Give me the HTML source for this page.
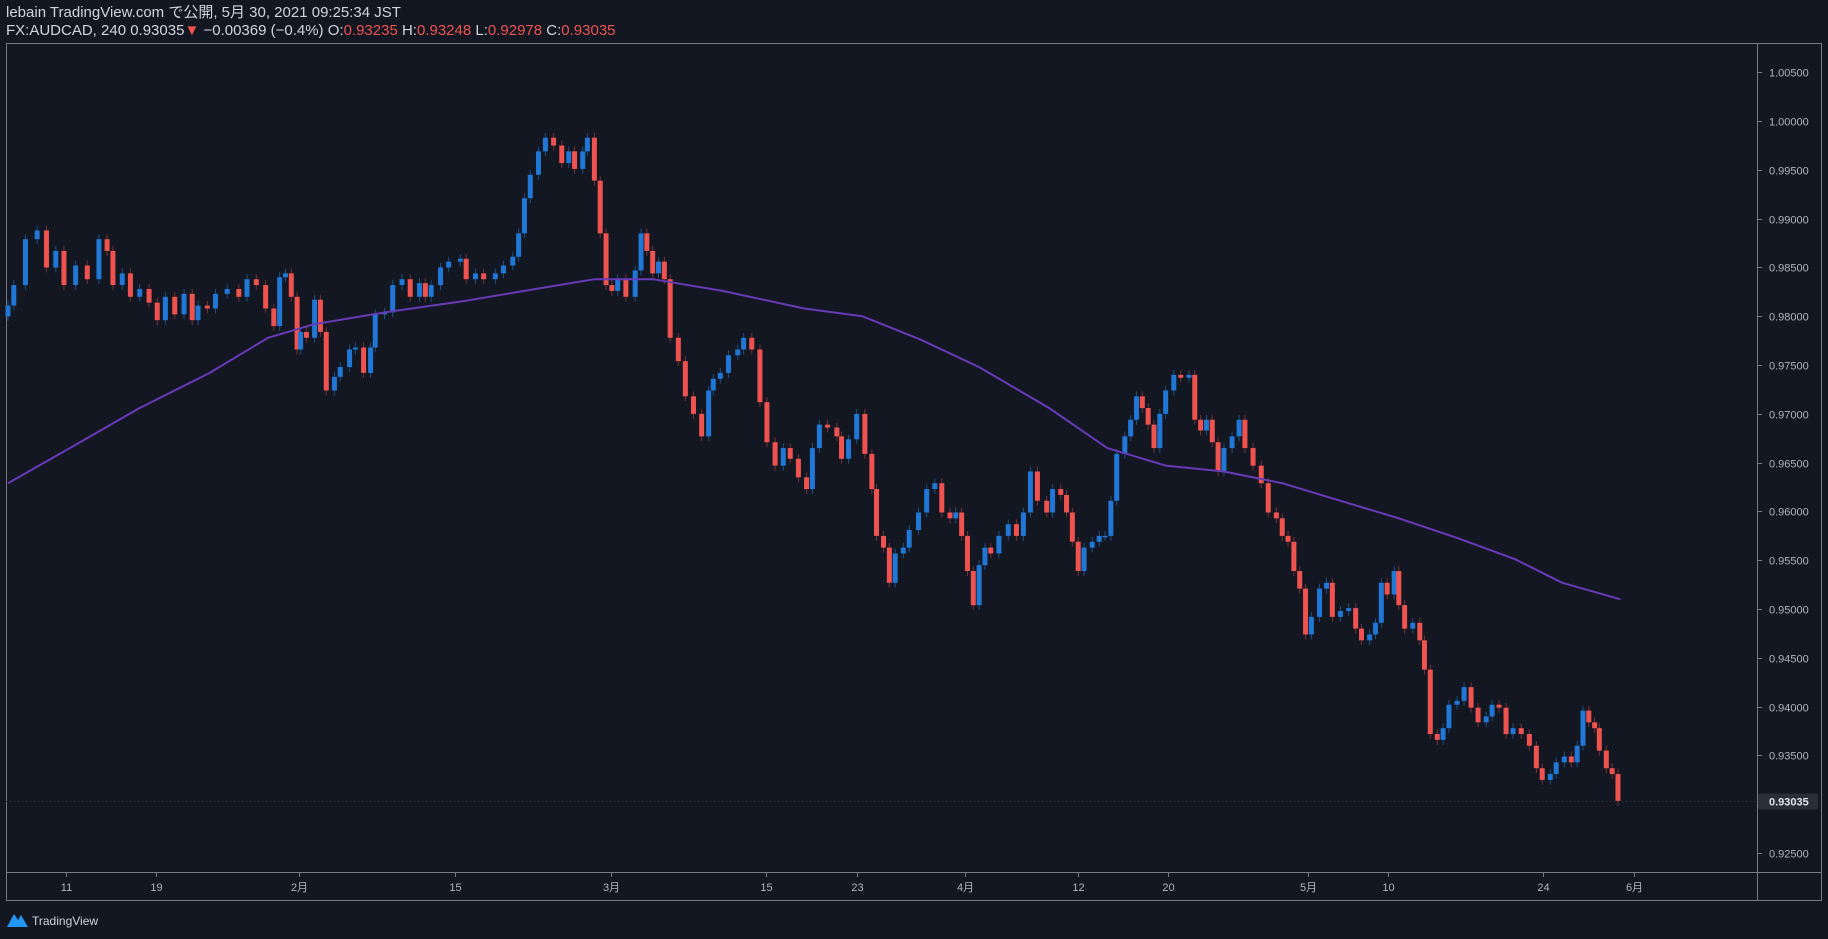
<!DOCTYPE html>
<html><head><meta charset="utf-8">
<style>
html,body{margin:0;padding:0;background:#131722;width:1828px;height:939px;overflow:hidden;font-family:"Liberation Sans","Noto Sans CJK JP",sans-serif;}
#hdr{position:absolute;left:6px;top:4px;color:#d1d4dc;font-size:15px;line-height:18px;}
.red{color:#ef5350}
svg{position:absolute;left:0;top:0}
</style></head><body>
<div id="hdr">
<div>lebain TradingView.com で公開, 5月 30, 2021 09:25:34 JST</div>
<div>FX:AUDCAD, 240 0.93035<span class="red">▼</span> −0.00369 (−0.4%) O:<span class="red">0.93235</span> H:<span class="red">0.93248</span> L:<span class="red">0.92978</span> C:<span class="red">0.93035</span></div>
</div>
<svg id="chart" width="1828" height="939"></svg>
<script>
const closes=[0.9811,0.9832,0.9879,0.9888,0.9850,0.9867,0.9832,0.9852,0.9838,0.9879,0.9867,0.9832,0.9844,0.9820,0.9828,0.9814,0.9796,0.9820,0.9802,0.9823,0.9796,0.9811,0.9808,0.9823,0.9828,0.9820,0.9838,0.9832,0.9808,0.9790,0.9840,0.9844,0.9820,0.9766,0.9784,0.9778,0.9817,0.9784,0.9724,0.9738,0.9748,0.9766,0.9768,0.9742,0.9768,0.9802,0.9804,0.9832,0.9838,0.9820,0.9834,0.9820,0.9832,0.9850,0.9856,0.9859,0.9838,0.9844,0.9838,0.9844,0.9852,0.9861,0.9885,0.9921,0.9945,0.9969,0.9983,0.9975,0.9957,0.9969,0.9951,0.9969,0.9983,0.9939,0.9885,0.9832,0.9826,0.9838,0.9820,0.9847,0.9885,0.9867,0.9844,0.9856,0.9838,0.9778,0.9754,0.9718,0.9700,0.9677,0.9724,0.9736,0.9742,0.9760,0.9766,0.9778,0.9766,0.9712,0.9671,0.9647,0.9665,0.9654,0.9635,0.9623,0.9665,0.9689,0.9686,0.9677,0.9654,0.9674,0.9700,0.9659,0.9623,0.9575,0.9563,0.9527,0.9557,0.9563,0.9581,0.9599,0.9623,0.9629,0.9599,0.9593,0.9599,0.9575,0.9539,0.9504,0.9545,0.9563,0.9557,0.9575,0.9587,0.9575,0.9599,0.9641,0.9611,0.9599,0.9623,0.9617,0.9599,0.9569,0.9539,0.9563,0.9569,0.9575,0.9575,0.9611,0.9659,0.9677,0.9694,0.9718,0.9706,0.9689,0.9665,0.9700,0.9724,0.9740,0.9737,0.9740,0.9694,0.9683,0.9694,0.9671,0.9641,0.9665,0.9677,0.9694,0.9665,0.9647,0.9629,0.9599,0.9593,0.9575,0.9569,0.9539,0.9521,0.9474,0.9492,0.9521,0.9527,0.9492,0.9498,0.9501,0.9480,0.9468,0.9474,0.9486,0.9527,0.9515,0.9539,0.9504,0.9480,0.9486,0.9468,0.9438,0.9372,0.9366,0.9378,0.9402,0.9406,0.9420,0.9399,0.9384,0.9390,0.9402,0.9399,0.9372,0.9378,0.9372,0.9360,0.9337,0.9325,0.9331,0.9343,0.9349,0.9343,0.9360,0.9396,0.9384,0.9378,0.9355,0.9337,0.9331,0.93035];
const barTimes=[0,5,15,25,33,41,48,58,68,78,85,90,98,105,113,121,128,135,143,151,158,163,171,178,188,198,205,213,221,228,233,238,243,248,251,256,263,268,273,280,285,293,298,305,311,315,323,330,338,345,353,358,363,371,378,388,393,401,408,418,425,433,438,443,448,455,461,468,475,481,486,493,497,503,508,513,518,523,530,538,543,548,553,558,563,568,575,581,588,595,601,605,611,618,626,631,638,645,651,658,665,671,678,685,690,696,703,711,715,721,728,735,741,745,751,756,761,768,773,781,788,795,801,808,813,818,823,828,833,838,843,850,858,865,871,877,883,891,896,903,908,913,918,923,930,936,941,946,951,958,963,968,973,978,983,988,993,1000,1006,1013,1018,1023,1028,1033,1038,1043,1050,1056,1061,1068,1075,1081,1088,1093,1098,1103,1108,1113,1118,1125,1131,1136,1143,1150,1156,1161,1168,1173,1178,1183,1189,1193,1198,1205,1211,1215,1220,1226,1231,1236,1243,1249,1255,1261,1268,1273,1279,1285,1291,1298,1305,1311,1316,1323,1328,1335,1341,1346,1351,1356,1361,1365,1371,1376,1381];
const firstOpen=0.9800;
const maValues=[0.9629,0.9665,0.9706,0.9742,0.9778,0.9792,0.9804,0.9816,0.9826,0.9838,0.9838,0.9826,0.9808,0.9800,0.9776,0.9748,0.9706,0.9665,0.9647,0.9641,0.9629,0.9611,0.9593,0.9573,0.9551,0.9527,0.9510];
const maTimes=[0,53,113,173,223,263,323,393,443,503,553,613,683,733,783,833,893,943,993,1043,1093,1143,1193,1243,1293,1333,1383];
const priceTicks=[1.005,1.000,0.995,0.990,0.985,0.980,0.975,0.970,0.965,0.960,0.955,0.950,0.945,0.940,0.935,0.925];
const timeLabels=["11","19","2月","15","3月","15","23","4月","12","20","5月","10","24","6月"];
const timeLabelTimes=[50,127,250,383,517,650,728,821,918,995,1115,1184,1317,1395];
const lastPrice=0.93035;

const NS="http://www.w3.org/2000/svg";
const svg=document.getElementById('chart');
function mk(tag,attrs,parent){const e=document.createElementNS(NS,tag);for(const k in attrs)e.setAttribute(k,attrs[k]);(parent||svg).appendChild(e);return e;}
const L=6,T=43,R=1757,B=872,R2=1822,B2=901;
const N=Math.min(closes.length,barTimes.length);
function xS(t){return 8+t*1.1658;}
function yS(p){return 72.3+(1.005-p)/0.005*48.8;}

const frame=mk('rect',{x:L+0.5,y:T+0.5,width:R2-L-1,height:B2-T-1,fill:'none',stroke:'#787b86','stroke-width':1});


const vsep=mk('line',{x1:R+0.5,y1:T,x2:R+0.5,y2:B2,stroke:'#787b86'});


const hsep=mk('line',{x1:L,y1:B+0.5,x2:R2,y2:B+0.5,stroke:'#787b86'});



priceTicks.forEach(p=>{
  const y=Math.round(yS(p))+0.5;
  const t=mk('line',{x1:R,y1:y,x2:R+5,y2:y,stroke:'#787b86'});
  
  
  const tx=mk('text',{x:R+12,y:y+4,fill:'#b2b5be','font-size':11,'font-family':'Liberation Sans, sans-serif'});
  tx.textContent=p.toFixed(5);
  
  
});
timeLabels.forEach((s,k)=>{
  const x=Math.round(xS(timeLabelTimes[k]))+0.5;
  const t=mk('line',{x1:x,y1:B,x2:x,y2:B+5,stroke:'#787b86'});
  
  
  const tx=mk('text',{x:x,y:B+19,fill:'#b2b5be','font-size':11,'text-anchor':'middle','font-family':'Liberation Sans, Noto Sans CJK JP, sans-serif'});
  tx.textContent=s;
  
  
});
const ly=Math.round(yS(lastPrice))+0.5;
const lpl=mk('line',{x1:L,y1:ly,x2:R,y2:ly,stroke:'#363a45','stroke-dasharray':'1,3'});


const lpb=mk('rect',{x:R+1,y:ly-8,width:60,height:16,rx:2,fill:'#2a2e39'});


const lpt=mk('text',{x:R+12,y:ly+4,fill:'#e0e3eb','font-size':11,'font-weight':'bold','font-family':'Liberation Sans, sans-serif'});
lpt.textContent=lastPrice.toFixed(5);



const g=mk('g',{});


for(let i=0;i<N;i++){
  const o=i===0?firstOpen:closes[i-1], c=closes[i];
  const up=c>=o, col=up?'#2177d6':'#ef5350';
  const hi=Math.max(o,c)+0.0005, lo=Math.min(o,c)-0.0005;
  const x=xS(barTimes[i]);
  const w=mk('line',{x1:x,y1:yS(hi),x2:x,y2:yS(lo),stroke:up?'#1c4f86':'#7a3035','stroke-width':1},g);
  
  
  const yt=yS(Math.max(o,c)), yb=yS(Math.min(o,c));
  const r=mk('rect',{x:x-2.5,y:yt,width:5,height:Math.max(1.5,yb-yt),fill:col},g);
  
  
}
let d='';
maValues.forEach((v,k)=>{d+=(k?'L':'M')+xS(maTimes[k]).toFixed(1)+','+yS(v).toFixed(1);});
const ma=mk('path',{d:d,fill:'none',stroke:'#673ab7','stroke-width':2,'stroke-linejoin':'round'});



const lg=mk('g',{});


mk('path',{d:'M7 927 L14 914 L18 920 L21 915 L28 927 Z',fill:'#2196f3'},lg);
const lt=mk('text',{x:32,y:925,fill:'#d1d4dc','font-size':12,'font-family':'Liberation Sans, sans-serif'},lg);
lt.textContent='TradingView';
</script>
</body></html>
